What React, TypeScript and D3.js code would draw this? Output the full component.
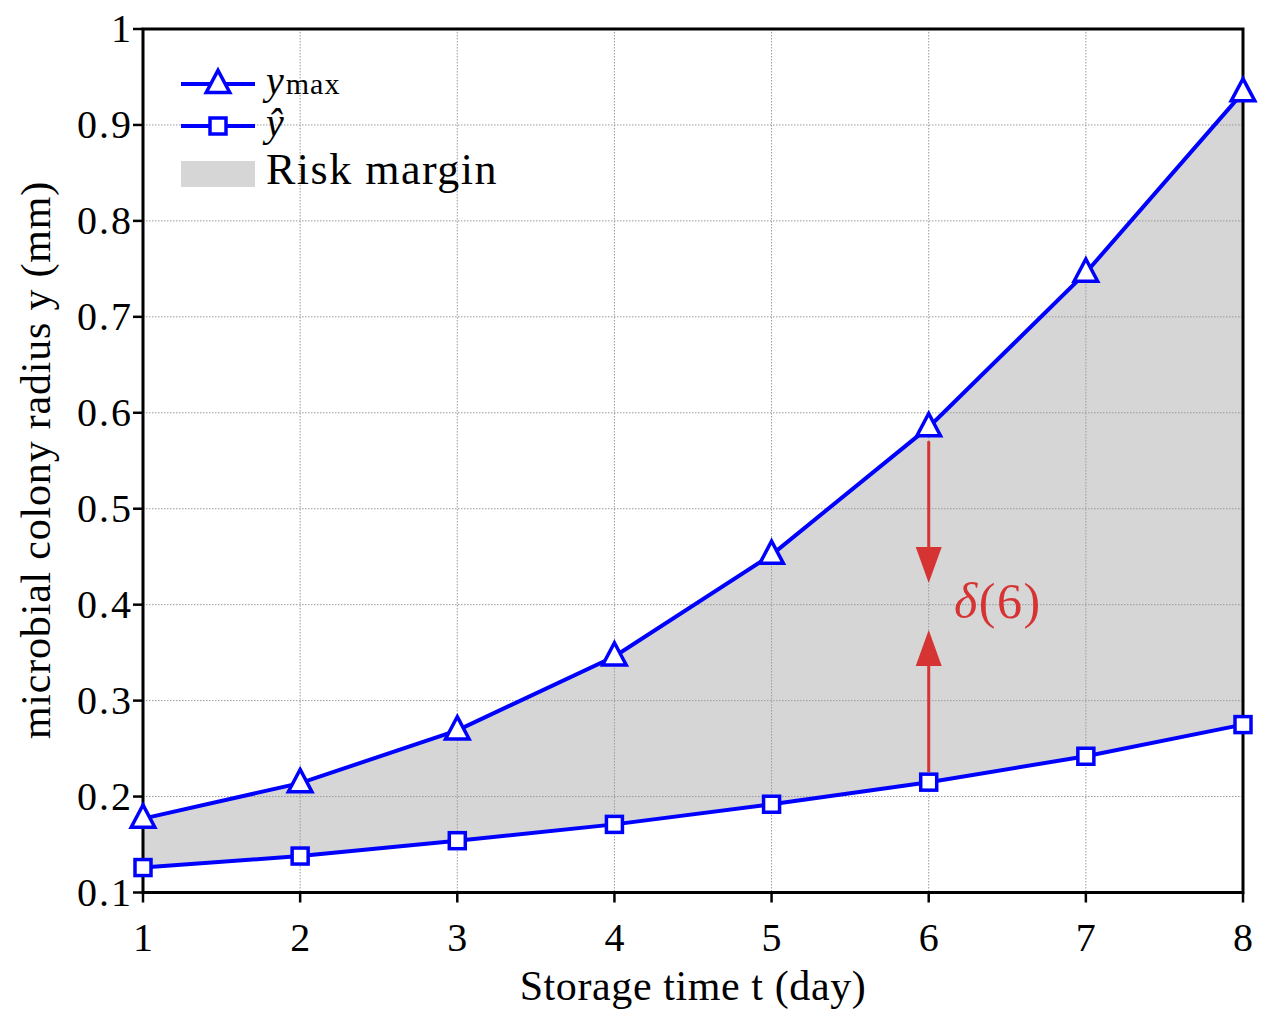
import React from "react";
import * as d3 from "d3";

const days = [1, 2, 3, 4, 5, 6, 7, 8];
const yMax = [0.177, 0.214, 0.269, 0.346, 0.452, 0.585, 0.746, 0.934];
const yHat = [0.126, 0.138, 0.154, 0.171, 0.192, 0.215, 0.242, 0.275];
const xTicks = [1, 2, 3, 4, 5, 6, 7, 8];
const yTicks = [0.1, 0.2, 0.3, 0.4, 0.5, 0.6, 0.7, 0.8, 0.9, 1];
const deltaDay = 6;

const W = 1272, H = 1023;
const L = 143, R = 1243, T = 29, B = 892.5;
const FONT = "'Liberation Serif', 'DejaVu Serif', serif";

export default function App() {
  const x = d3.scaleLinear().domain([1, 8]).range([L, R]);
  const y = d3.scaleLinear().domain([0.1, 1]).range([B, T]);
  const lineGen = d3.line<number>().x((_, i) => x(days[i])).y((d) => y(d));
  const area = d3
    .area<number>()
    .x((_, i) => x(days[i]))
    .y0((_, i) => y(yHat[i]))
    .y1((d) => y(d));
  const blue = "#0000ff";
  const red = "#d63333";
  const tri = (cx: number, cy: number, s: number) =>
    `M${cx},${cy - s * 0.72}L${cx + s * 0.62},${cy + s * 0.45}L${cx - s * 0.62},${cy + s * 0.45}Z`;
  const di = days.indexOf(deltaDay);
  const ax = x(deltaDay);
  const yTop = y(yMax[di]) + 14;
  const yBot = y(yHat[di]) - 10;
  const tipTop = 583;
  const tipBot = 630;
  const headL = 36, headW = 13;
  const sq = 16;
  return (
    <svg width={W} height={H} style={{ position: "absolute", left: 0, top: 0, background: "#fff" }} fontFamily={FONT}>
      <path d={area(yMax) || ""} fill="#d6d6d6" />
      {xTicks.map((t) => (
        <line key={"gx" + t} x1={x(t)} x2={x(t)} y1={T} y2={B} stroke="#999" strokeWidth={1} strokeDasharray="1.5,1.5" />
      ))}
      {yTicks.map((t) => (
        <line key={"gy" + t} x1={L} x2={R} y1={y(t)} y2={y(t)} stroke="#999" strokeWidth={1} strokeDasharray="1.5,1.5" />
      ))}
      {/* delta arrows */}
      <line x1={ax} x2={ax} y1={yTop} y2={tipTop - headL + 2} stroke={red} strokeWidth={3} />
      <path d={`M${ax},${tipTop}L${ax - headW},${tipTop - headL}L${ax + headW},${tipTop - headL}Z`} fill={red} />
      <line x1={ax} x2={ax} y1={yBot} y2={tipBot + headL - 2} stroke={red} strokeWidth={3} />
      <path d={`M${ax},${tipBot}L${ax - headW},${tipBot + headL}L${ax + headW},${tipBot + headL}Z`} fill={red} />
      <text x={954} y={618} fontSize={50} fill={red} letterSpacing={1.5}>
        <tspan fontStyle="italic">δ</tspan>
        <tspan>(6)</tspan>
      </text>
      {/* lines */}
      <path d={lineGen(yMax) || ""} fill="none" stroke={blue} strokeWidth={4} />
      <path d={lineGen(yHat) || ""} fill="none" stroke={blue} strokeWidth={4} />
      {/* frame */}
      <rect x={L} y={T} width={R - L} height={B - T} fill="none" stroke="#000" strokeWidth={3} />
      {yMax.map((v, i) => (
        <path key={"m" + i} d={tri(x(days[i]), y(v), 19)} fill="#fff" stroke={blue} strokeWidth={3.5} />
      ))}
      {yHat.map((v, i) => (
        <rect key={"s" + i} x={x(days[i]) - sq / 2} y={y(v) - sq / 2} width={sq} height={sq} fill="#fff" stroke={blue} strokeWidth={3.5} />
      ))}
      {/* ticks */}
      {yTicks.map((t) => (
        <g key={"yt" + t}>
          <line x1={L - 10} x2={L} y1={y(t)} y2={y(t)} stroke="#000" strokeWidth={2.5} />
          <text x={L - 10} y={y(t) + 13} fontSize={40} textAnchor="end" letterSpacing={2}>{String(t)}</text>
        </g>
      ))}
      {xTicks.map((t) => (
        <g key={"xt" + t}>
          <line x1={x(t)} x2={x(t)} y1={B} y2={B + 10} stroke="#000" strokeWidth={2.5} />
          <text x={x(t)} y={951} fontSize={40} textAnchor="middle">{String(t)}</text>
        </g>
      ))}
      <text x={693} y={1000} fontSize={42} textAnchor="middle" letterSpacing={0.6}>Storage time t (day)</text>
      <text transform={`translate(50,460) rotate(-90)`} fontSize={42} textAnchor="middle" letterSpacing={0.8}>microbial colony radius y (mm)</text>
      {/* legend */}
      <line x1={181} x2={255} y1={84} y2={84} stroke={blue} strokeWidth={4} />
      <path d={tri(218, 84, 19)} fill="#fff" stroke={blue} strokeWidth={3.5} />
      <text x={266} y={94} fontSize={40}>
        <tspan fontStyle="italic">y</tspan>
        <tspan fontSize={30} dx={2} letterSpacing={1}>max</tspan>
      </text>
      <line x1={181} x2={255} y1={126} y2={126} stroke={blue} strokeWidth={4} />
      <rect x={218 - sq / 2} y={126 - sq / 2} width={sq} height={sq} fill="#fff" stroke={blue} strokeWidth={3.5} />
      <text x={266} y={136} fontSize={40} fontStyle="italic">ŷ</text>
      <rect x={181} y={161} width={74} height={26} fill="#d6d6d6" />
      <text x={266} y={184} fontSize={44} letterSpacing={1.5}>Risk margin</text>
    </svg>
  );
}
